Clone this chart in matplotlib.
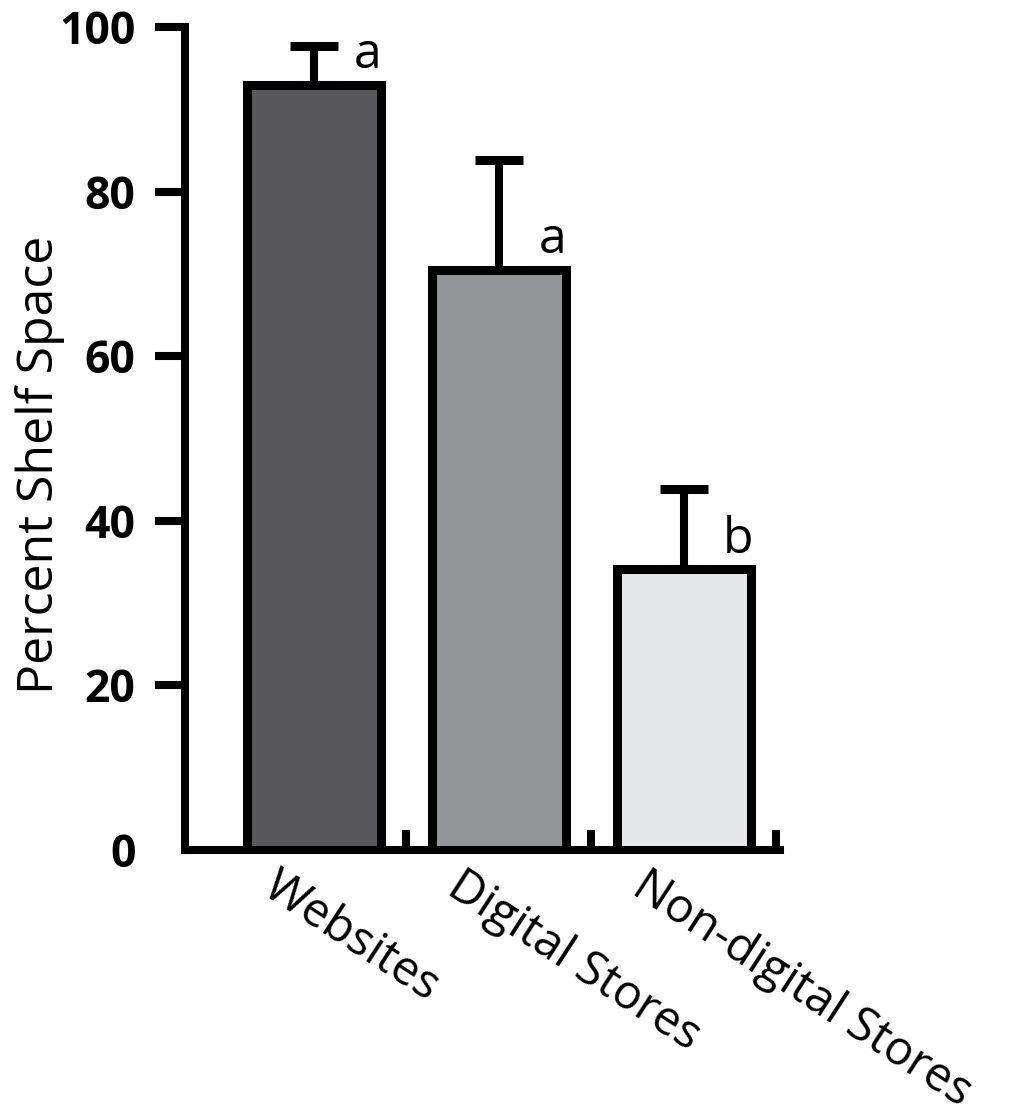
import matplotlib
matplotlib.use("Agg")
import matplotlib.pyplot as plt
from matplotlib.transforms import ScaledTranslation

# data
categories = ["Websites", "Digital Stores", "Non-digital Stores"]
means = [93.0, 70.5, 34.1]
upper_err = [4.7, 13.4, 9.8]
letters = ["a", "a", "b"]
colors = ["#58585a", "#939598", "#e6e7e8"]
yticks = [0, 20, 40, 60, 80, 100]

plt.rcParams["font.family"] = ["Open Sans", "DejaVu Sans"]

fig = plt.figure(figsize=(10.13, 11.17), dpi=100)
ax = fig.add_axes([0.1826, 0.2390, 0.5874, 0.7368])

x = list(range(len(categories)))
ax.bar(x, means, width=0.72, color=colors, edgecolor="black", linewidth=6.5, zorder=3)
ax.errorbar(x, means, yerr=[[0] * len(means), upper_err], fmt="none",
            ecolor="black", elinewidth=5.8, capsize=17.6, capthick=6.5, zorder=2)

for xi, m, lt in zip(x, means, letters):
    ax.text(xi + 0.29, m + 2.0, lt, ha="center", va="baseline", fontsize=36)

ax.set_xlim(-0.697, 2.519)
ax.set_ylim(0, 100)

for side in ["top", "right"]:
    ax.spines[side].set_visible(False)
for side in ["left", "bottom"]:
    ax.spines[side].set_linewidth(5.8)
    ax.spines[side].set_capstyle("projecting")

ax.set_yticks(yticks)
ax.set_yticklabels([str(v) for v in yticks], fontsize=32, fontweight="bold")
ax.tick_params(axis="y", direction="out", length=21.6, width=5.8, pad=14)
ax.yaxis.get_major_ticks()[0].tick1line.set_visible(False)

ax.set_xticks(x)
ax.set_xticklabels(categories, rotation=-33, ha="left", rotation_mode="anchor", fontsize=34)
ax.tick_params(axis="x", length=0, pad=9)
ax.set_xticks([0.5, 1.5, 2.5], minor=True)
ax.tick_params(axis="x", which="minor", direction="in", length=14.4, width=5.8)
shift = ScaledTranslation(-34 / 100, 0, fig.dpi_scale_trans)
for lab in ax.get_xticklabels():
    lab.set_transform(lab.get_transform() + shift)

ax.set_ylabel("Percent Shelf Space", fontsize=36)
ax.yaxis.set_label_coords(-0.202, 0.468)

fig.savefig("out.png", dpi=100)
